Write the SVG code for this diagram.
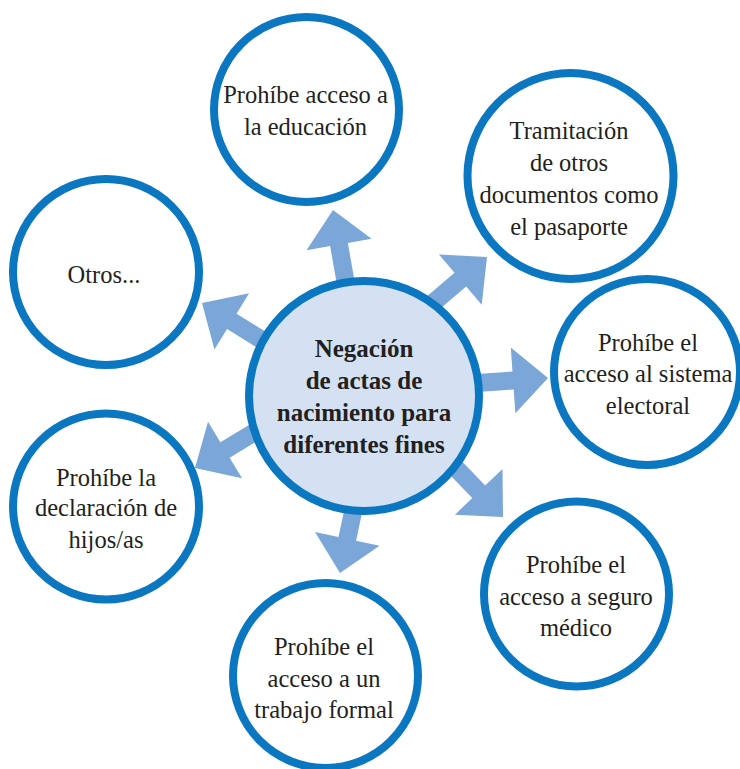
<svg xmlns="http://www.w3.org/2000/svg" xmlns:xlink="http://www.w3.org/1999/xlink" width="740" height="769" viewBox="0 0 740 769">
  <style>
    .node { fill: #ffffff; stroke: #0a77c0; stroke-width: 8; }
    .hub { fill: #d3e1f2; stroke: #0a77c0; stroke-width: 8; }
    text { font-family: 'Liberation Serif', 'DejaVu Serif', serif; font-size: 24.5px; fill: #231f20; text-anchor: middle; }
    .hubl { font-weight: bold; font-size: 25px; }
    .arrow { fill: #7ba7d8; }
  </style>
  <defs>
    <polygon id="arr" class="arrow" points="-100,-9 -35,-9 -35,-33 0,0 -35,33 -35,9 -100,9"/>
  </defs>
  <rect width="740" height="769" fill="#ffffff"/>
  <g id="connectors">
    <use xlink:href="#arr" transform="translate(333,210) rotate(-99.9)"/>
    <use xlink:href="#arr" transform="translate(487,257) rotate(-40.4)"/>
    <use xlink:href="#arr" transform="translate(548,378) rotate(-4)"/>
    <use xlink:href="#arr" transform="translate(503,517) rotate(46.1)"/>
    <use xlink:href="#arr" transform="translate(340,573) rotate(102)"/>
    <use xlink:href="#arr" transform="translate(195,468) rotate(149)"/>
    <use xlink:href="#arr" transform="translate(202,303) rotate(211.7)"/>
  </g>
  <g id="hub">
    <circle class="hub" cx="364" cy="396" r="115"/>
    <text class="hubl" x="364" y="357">Negación</text>
    <text class="hubl" x="364" y="389">de actas de</text>
    <text class="hubl" x="364" y="421">nacimiento para</text>
    <text class="hubl" x="364" y="453">diferentes fines</text>
  </g>
  <g id="educacion">
    <circle class="node" cx="306.5" cy="109.5" r="92.5"/>
    <text x="305.5" y="103">Prohíbe acceso a</text>
    <text x="305.5" y="135">la educación</text>
  </g>
  <g id="tramitacion">
    <circle class="node" cx="570.5" cy="176" r="103"/>
    <text x="569" y="139">Tramitación</text>
    <text x="569" y="171">de otros</text>
    <text x="569" y="203">documentos como</text>
    <text x="569" y="235">el pasaporte</text>
  </g>
  <g id="electoral">
    <circle class="node" cx="647" cy="372" r="93"/>
    <text x="648" y="351">Prohíbe el</text>
    <text x="648" y="382">acceso al sistema</text>
    <text x="648" y="414">electoral</text>
  </g>
  <g id="seguro">
    <circle class="node" cx="576.5" cy="594" r="92.5"/>
    <text x="576" y="573">Prohíbe el</text>
    <text x="576" y="605">acceso a seguro</text>
    <text x="576" y="636">médico</text>
  </g>
  <g id="trabajo">
    <circle class="node" cx="325.5" cy="675.5" r="92.5"/>
    <text x="324" y="655">Prohíbe el</text>
    <text x="324" y="687">acceso a un</text>
    <text x="324" y="718">trabajo formal</text>
  </g>
  <g id="hijos">
    <circle class="node" cx="106" cy="506.5" r="93"/>
    <text x="106" y="486">Prohíbe la</text>
    <text x="106" y="516">declaración de</text>
    <text x="106" y="548">hijos/as</text>
  </g>
  <g id="otros">
    <circle class="node" cx="106" cy="272" r="93"/>
    <text x="104" y="283">Otros...</text>
  </g>
</svg>
